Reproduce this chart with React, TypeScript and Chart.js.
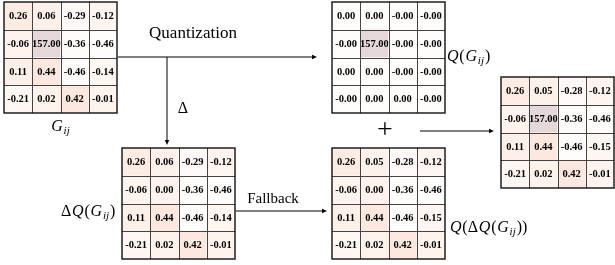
import React, { useEffect, useRef } from "react";
import { Chart, registerables } from "chart.js";

Chart.register(...registerables);

// ---- data ----
const G = [
  [0.26, 0.06, -0.29, -0.12],
  [-0.06, 157.0, -0.36, -0.46],
  [0.11, 0.44, -0.46, -0.14],
  [-0.21, 0.02, 0.42, -0.01],
];
const QG = [
  [0.0, 0.0, -0, -0],
  [-0, 157.0, -0, -0],
  [0.0, 0.0, -0, -0],
  [-0, 0.0, 0.0, -0],
];
const DQ = [
  [0.26, 0.06, -0.29, -0.12],
  [-0.06, 0.0, -0.36, -0.46],
  [0.11, 0.44, -0.46, -0.14],
  [-0.21, 0.02, 0.42, -0.01],
];
const QDQ = [
  [0.26, 0.05, -0.28, -0.12],
  [-0.06, 0.0, -0.36, -0.46],
  [0.11, 0.44, -0.46, -0.15],
  [-0.21, 0.02, 0.42, -0.01],
];
const RESULT = [
  [0.26, 0.05, -0.28, -0.12],
  [-0.06, 157.0, -0.36, -0.46],
  [0.11, 0.44, -0.46, -0.15],
  [-0.21, 0.02, 0.42, -0.01],
];
const TEXT_QUANT = "Quantization";
const TEXT_DELTA = "Δ";
const TEXT_FALLBACK = "Fallback";
const TEXT_PLUS = "+";

// ---- layout (diagram coordinates in scale units) ----
type Seg = { t: string; it?: boolean; sub?: boolean };
const matrices = [
  { m: G, x: 4, y: 2, low: -0.46 },
  { m: QG, x: 332, y: 2, low: 0 },
  { m: DQ, x: 122, y: 148, low: -0.46 },
  { m: QDQ, x: 332, y: 148, low: -0.46 },
  { m: RESULT, x: 501, y: 77, low: -0.46 },
];
const CW = 28.25;
const CH = 27.75;

const arrows = [
  { x1: 118, y1: 57, x2: 317, y2: 57 },
  { x1: 167, y1: 57, x2: 167, y2: 145 },
  { x1: 236, y1: 211, x2: 327, y2: 211 },
  { x1: 420, y1: 131, x2: 494, y2: 131 },
];

const mathLabels: { x: number; y: number; align: string; segs: Seg[] }[] = [
  { x: 61, y: 127, align: "center", segs: [{ t: "G", it: true }, { t: "ij", it: true, sub: true }] },
  { x: 447, y: 57, align: "left", segs: [{ t: "Q", it: true }, { t: "(" }, { t: "G", it: true }, { t: "ij", it: true, sub: true }, { t: ")" }] },
  { x: 61, y: 212, align: "left", segs: [{ t: "Δ" }, { t: "Q", it: true }, { t: "(" }, { t: "G", it: true }, { t: "ij", it: true, sub: true }, { t: ")" }] },
  { x: 450, y: 228, align: "left", segs: [{ t: "Q", it: true }, { t: "(Δ" }, { t: "Q", it: true }, { t: "(" }, { t: "G", it: true }, { t: "ij", it: true, sub: true }, { t: "))" }] },
];

function fmt(v: number) {
  const neg = v < 0 || Object.is(v, -0);
  return (neg ? "-" : "") + Math.abs(v).toFixed(2);
}

function cellColor(v: number, low: number) {
  if (v > 100) return "rgb(229,216,216)";
  let t = (v - low) / (0.44 - low);
  t = Math.max(0, Math.min(1, t));
  const a = [255, 253, 252];
  const b = [252, 232, 222];
  const c = a.map((av, i) => Math.round(av + (b[i] - av) * t));
  return `rgb(${c[0]},${c[1]},${c[2]})`;
}

const diagramPlugin = {
  id: "diagram",
  afterDraw(chart: any) {
    const ctx: CanvasRenderingContext2D = chart.ctx;
    const sx = chart.scales.x;
    const sy = chart.scales.y;
    const X = (v: number) => sx.getPixelForValue(v);
    const Y = (v: number) => sy.getPixelForValue(v);
    ctx.save();
    ctx.fillStyle = "#fff";
    ctx.fillRect(0, 0, chart.width, chart.height);

    // matrices
    for (const mt of matrices) {
      const rows = mt.m.length;
      const cols = mt.m[0].length;
      for (let r = 0; r < rows; r++) {
        for (let c = 0; c < cols; c++) {
          const x0 = X(mt.x + c * CW);
          const x1 = X(mt.x + (c + 1) * CW);
          const y0 = Y(mt.y + r * CH);
          const y1 = Y(mt.y + (r + 1) * CH);
          ctx.fillStyle = cellColor(mt.m[r][c], mt.low);
          ctx.fillRect(x0, y0, x1 - x0, y1 - y0);
          ctx.fillStyle = "#000";
          ctx.font = 'bold 10.5px "Liberation Serif"';
          ctx.textAlign = "center";
          ctx.textBaseline = "middle";
          ctx.fillText(fmt(mt.m[r][c]), (x0 + x1) / 2, (y0 + y1) / 2 + 0.5);
        }
      }
      ctx.strokeStyle = "#444";
      ctx.lineWidth = 1;
      for (let c = 1; c < cols; c++) {
        const x = Math.round(X(mt.x + c * CW)) + 0.5;
        ctx.beginPath();
        ctx.moveTo(x, Y(mt.y));
        ctx.lineTo(x, Y(mt.y + rows * CH));
        ctx.stroke();
      }
      for (let r = 1; r < rows; r++) {
        const y = Math.round(Y(mt.y + r * CH)) + 0.5;
        ctx.beginPath();
        ctx.moveTo(X(mt.x), y);
        ctx.lineTo(X(mt.x + cols * CW), y);
        ctx.stroke();
      }
      ctx.strokeStyle = "#111";
      ctx.lineWidth = 1.4;
      ctx.strokeRect(X(mt.x), Y(mt.y), X(mt.x + cols * CW) - X(mt.x), Y(mt.y + rows * CH) - Y(mt.y));
    }

    // arrows
    ctx.strokeStyle = "#000";
    ctx.fillStyle = "#000";
    ctx.lineWidth = 1;
    for (const a of arrows) {
      const x1 = X(a.x1), y1 = Y(a.y1), x2 = X(a.x2), y2 = Y(a.y2);
      const ang = Math.atan2(y2 - y1, x2 - x1);
      const L = 5, W = 2.2;
      const bx = x2 - L * Math.cos(ang), by = y2 - L * Math.sin(ang);
      ctx.beginPath();
      ctx.moveTo(x1, y1);
      ctx.lineTo(bx, by);
      ctx.stroke();
      ctx.beginPath();
      ctx.moveTo(x2, y2);
      ctx.lineTo(bx + W * Math.sin(ang), by - W * Math.cos(ang));
      ctx.lineTo(bx - W * Math.sin(ang), by + W * Math.cos(ang));
      ctx.closePath();
      ctx.fill();
    }

    // plain labels
    ctx.fillStyle = "#000";
    ctx.textBaseline = "middle";
    ctx.textAlign = "center";
    ctx.font = '17px "Liberation Serif"';
    ctx.fillText(TEXT_QUANT, X(193), Y(34));
    ctx.font = '16px "Liberation Serif"';
    ctx.fillText(TEXT_DELTA, X(183), Y(109));
    ctx.font = '15px "Liberation Serif"';
    ctx.fillText(TEXT_FALLBACK, X(273), Y(199));
    ctx.font = '28px "Liberation Serif"';
    ctx.fillText(TEXT_PLUS, X(385), Y(131));

    // math labels
    for (const lab of mathLabels) {
      const fontFor = (s: Seg) =>
        `${s.it ? "italic " : ""}${s.sub ? 11 : 16}px "Liberation Serif"`;
      let total = 0;
      for (const s of lab.segs) {
        ctx.font = fontFor(s);
        total += ctx.measureText(s.t).width + (s.sub ? 1 : 0.8);
      }
      let x = X(lab.x);
      if (lab.align === "center") x -= total / 2;
      const y = Y(lab.y);
      ctx.textAlign = "left";
      ctx.textBaseline = "middle";
      for (const s of lab.segs) {
        ctx.font = fontFor(s);
        ctx.fillText(s.t, x, s.sub ? y + 4 : y);
        x += ctx.measureText(s.t).width + (s.sub ? 1 : 0.8);
      }
    }
    ctx.restore();
  },
};

export default function App() {
  const ref = useRef<HTMLCanvasElement>(null);
  useEffect(() => {
    document.body.style.margin = "0";
    const chart = new Chart(ref.current!, {
      type: "scatter",
      data: { datasets: [{ data: [] }] },
      options: {
        animation: false,
        responsive: false,
        devicePixelRatio: 1,
        layout: { padding: 0 },
        plugins: { legend: { display: false }, tooltip: { enabled: false } },
        scales: {
          x: { type: "linear", min: 0, max: 615, display: false },
          y: { type: "linear", min: 0, max: 265, reverse: true, display: false },
        },
      },
      plugins: [diagramPlugin],
    });
    return () => chart.destroy();
  }, []);
  return (
    <div style={{ width: 615, height: 265 }}>
      <canvas ref={ref} width={615} height={265} />
    </div>
  );
}
